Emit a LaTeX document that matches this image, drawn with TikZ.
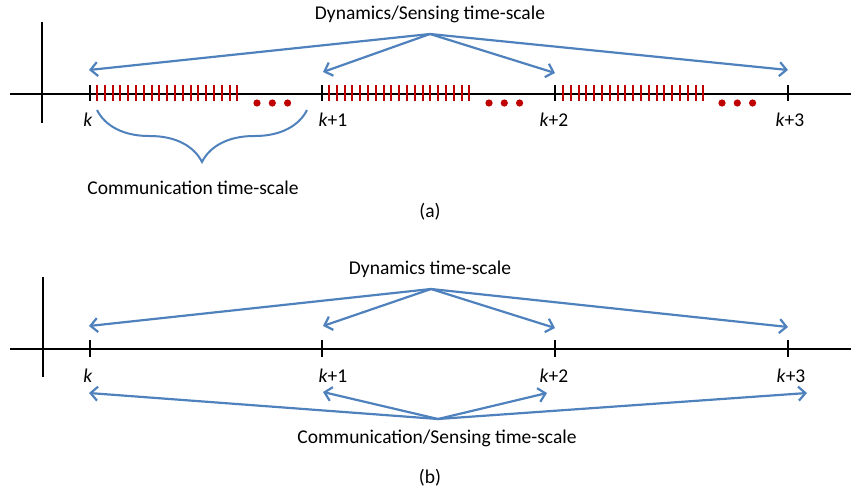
\documentclass[tikz,border=0pt]{standalone}
\usepackage{fontspec}
\setmainfont{Carlito}
\usetikzlibrary{arrows.meta,decorations.pathreplacing}
\definecolor{oblue}{HTML}{4F81BD}
\definecolor{ored}{HTML}{C00000}
\tikzset{
  axisline/.style={line width=2pt,black},
  ticktick/.style={line width=2pt,black},
  redtick/.style={line width=2pt,ored},
  reddot/.style={fill=ored,draw=none},
  scalearrow/.style={line width=2.2pt,oblue,-{Straight Barb[length=7pt,width=14pt,line width=2.2pt]}},
  lbl/.style={font=\fontsize{19.5}{23}\selectfont,inner sep=0pt},
  klbl/.style={font=\fontsize{19.5}{23}\selectfont,inner sep=0pt,anchor=base},
}
\begin{document}
\begin{tikzpicture}[x=1pt,y=-1pt]
\useasboundingbox (0,0) rectangle (851,495);
% ---------- panel (a) ----------
\draw[axisline] (10,94) -- (851,94);
\draw[axisline] (42,22) -- (42,123);
\foreach \s in {97,329,563} {
  \foreach \i in {0,...,18} {
    \pgfmathsetmacro{\xx}{round(\s+\i*7.8)}
    \draw[redtick] (\xx,85) -- (\xx,101);
  }
}
\foreach \x in {90,322,555,788} \draw[ticktick] (\x,85) -- (\x,101);
\foreach \s in {257,489,722} {
  \foreach \i in {0,1,2} \fill[reddot] ({\s+\i*15.3},103) circle (3.6);
}
\node[klbl] (ka) at (88,126) {\textit{k}};
\node[klbl] (ka1) at (333,126) {\textit{k}+1};
\node[klbl] (ka2) at (554,126) {\textit{k}+2};
\node[klbl] (ka3) at (790,126) {\textit{k}+3};
\node[lbl] (dsa) at (430,14) {Dynamics/Sensing time-scale};
\coordinate (oa) at (430,34);
\coordinate (ea0) at (89,70);
\coordinate (ea1) at (323,72);
\coordinate (ea2) at (555,73);
\coordinate (ea3) at (788,70);
\foreach \e in {ea0,ea1,ea2,ea3} \draw[scalearrow] (oa) -- (\e);
\coordinate (bra) at (307,110);
\coordinate (brb) at (97,110);
\draw[oblue,line width=2pt,decorate,decoration={brace,amplitude=52pt,aspect=0.5}] (bra) -- (brb);
\node[lbl] (comm) at (193,188) {Communication time-scale};
\node[lbl] (capa) at (430,212) {(a)};
% ---------- panel (b) ----------
\draw[axisline] (10,349) -- (851,349);
\draw[axisline] (43,277) -- (43,377);
\foreach \x in {90,322,555,788} \draw[ticktick] (\x,340) -- (\x,357);
\node[klbl] (kb) at (88,382) {\textit{k}};
\node[klbl] (kb1) at (333,382) {\textit{k}+1};
\node[klbl] (kb2) at (554,382) {\textit{k}+2};
\node[klbl] (kb3) at (791,382) {\textit{k}+3};
\node[lbl] (dyn) at (430,269) {Dynamics time-scale};
\coordinate (ob) at (431,289);
\coordinate (eb0) at (89,326);
\coordinate (eb1) at (323,326);
\coordinate (eb2) at (555,328);
\coordinate (eb3) at (788,327);
\foreach \e in {eb0,eb1,eb2,eb3} \draw[scalearrow] (ob) -- (\e);
\node[lbl] (cs) at (437,438) {Communication/Sensing time-scale};
\coordinate (oc) at (438,419);
\coordinate (ec0) at (89,393);
\coordinate (ec1) at (323,392);
\coordinate (ec2) at (547,393);
\coordinate (ec3) at (807,393);
\foreach \e in {ec0,ec1,ec2,ec3} \draw[scalearrow] (oc) -- (\e);
\node[lbl] (capb) at (430,478) {(b)};
\end{tikzpicture}
\end{document}
